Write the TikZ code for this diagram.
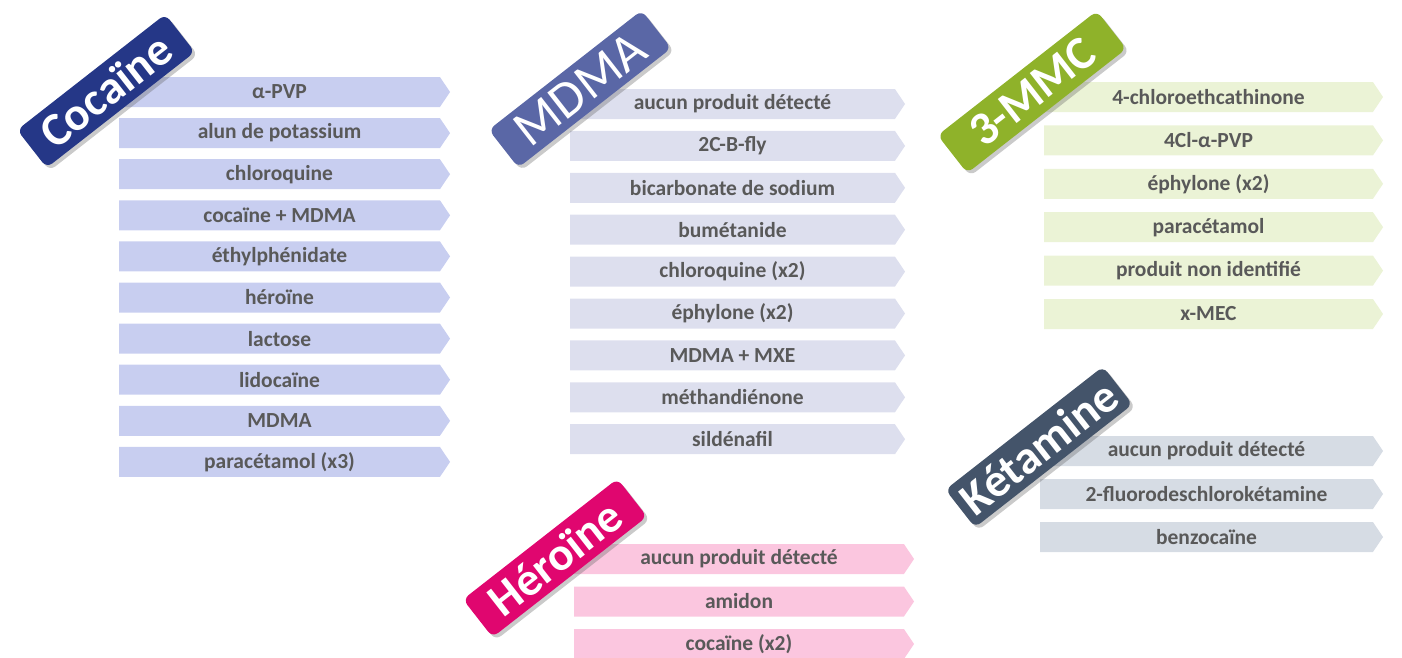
\documentclass[tikz,border=0pt]{standalone}
\usepackage{fontspec}
\setmainfont{Carlito}
\usetikzlibrary{shapes.symbols,shadows}
\definecolor{txt}{HTML}{595959}
\definecolor{cocB}{HTML}{253787}\definecolor{cocA}{HTML}{C8CEF0}
\definecolor{mdmB}{HTML}{5A67A6}\definecolor{mdmA}{HTML}{DDDFEE}
\definecolor{mmcB}{HTML}{8FB22A}\definecolor{mmcA}{HTML}{EBF3D6}
\definecolor{ketB}{HTML}{44546A}\definecolor{ketA}{HTML}{D6DCE4}
\definecolor{herB}{HTML}{E0066F}\definecolor{herA}{HTML}{FBC6DF}
\tikzset{
  item/.style={signal, signal to=east, signal from=nowhere, signal pointer angle=112,
    minimum height=30pt, inner sep=0pt, text=txt,
    font=\fontsize{21.5}{23}\selectfont\bfseries},
  badge/.style={rounded corners=7pt, rotate=38, minimum height=48pt, inner sep=0pt,
    text=white, font=\fontsize{47}{50}\selectfont\bfseries,
    drop shadow={shadow xshift=3pt, shadow yshift=-3pt, opacity=0.35, fill=black!60}},
}
\begin{document}
\begin{tikzpicture}[x=1pt,y=-1pt]
\useasboundingbox (0,0) rectangle (1402,657);
% Cocaine
\foreach \t [count=\i] in {α-PVP,alun de potassium,chloroquine,cocaïne + MDMA,éthylphénidate,héroïne,lactose,lidocaïne,MDMA,paracétamol (x3)}
  \node[item, fill=cocA, minimum width=331pt] (coc\i) at (279.5,{92+41.1*(\i-1)}) {\t};
% MDMA
\foreach \t [count=\i] in {aucun produit détecté,2C-B-fly,bicarbonate de sodium,bumétanide,chloroquine (x2),éphylone (x2),MDMA + MXE,méthandiénone,sildénafil}
  \node[item, fill=mdmA, minimum width=335pt] (mdm\i) at (732.5,{104+41.9*(\i-1)}) {\t};
% 3-MMC
\foreach \t [count=\i] in {4-chloroethcathinone,4Cl-α-PVP,éphylone (x2),paracétamol,produit non identifié,x-MEC}
  \node[item, fill=mmcA, minimum width=339pt] (mmc\i) at (1208.5,{97+43.4*(\i-1)}) {\t};
% Ketamine
\foreach \t [count=\i] in {aucun produit détecté,2-fluorodeschlorokétamine,benzocaïne}
  \node[item, fill=ketA, minimum width=343pt] (ket\i) at (1206.5,{451+43*(\i-1)}) {\t};
% Heroine
\foreach \t [count=\i] in {aucun produit détecté,amidon,cocaïne (x2)}
  \node[item, fill=herA, minimum width=340pt] (her\i) at (739,{559+42.5*(\i-1)}) {\t};
% badges
\node[badge, fill=cocB, minimum width=188pt] (bcoc) at (106,91) {Cocaïne};
\node[badge, fill=mdmB, minimum width=194pt, font=\fontsize{52}{56}\selectfont] (bmdm) at (580,89) {MDMA};
\node[badge, fill=mmcB, minimum width=202pt] (bmmc) at (1032,92) {3-MMC};
\node[badge, fill=ketB, minimum width=200pt] (bket) at (1039,447) {Kétamine};
\node[badge, fill=herB, minimum width=196pt] (bher) at (555,558) {Héroïne};
\end{tikzpicture}
\end{document}
